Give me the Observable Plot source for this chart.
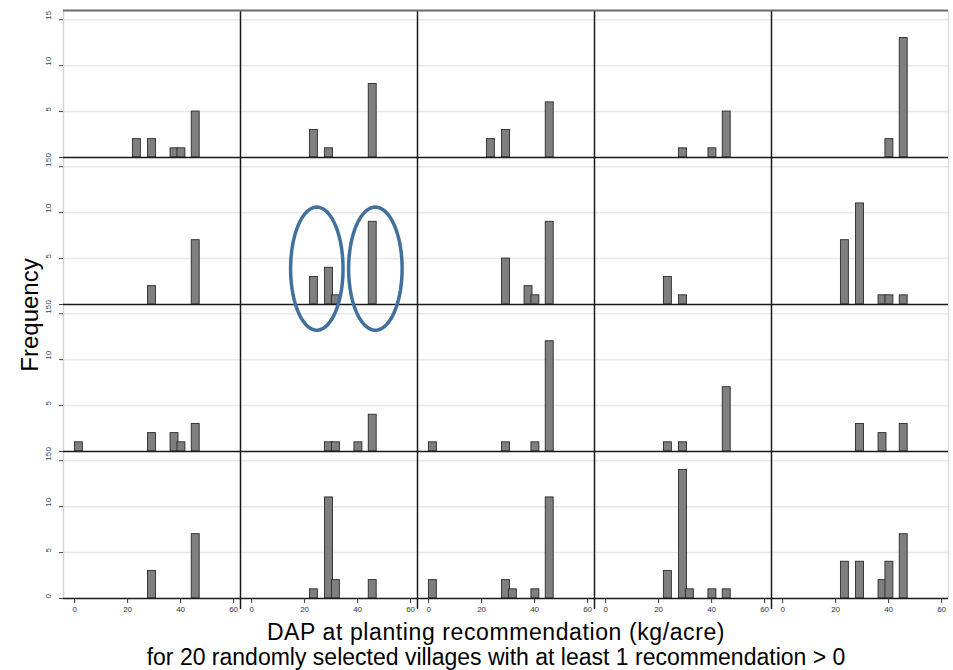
<!DOCTYPE html>
<html><head><meta charset="utf-8">
<script src="https://cdn.jsdelivr.net/npm/d3@7"></script>
<script src="https://cdn.jsdelivr.net/npm/@observablehq/plot@0.6"></script>
<style>
body{margin:0;background:#fff;font-family:"Liberation Sans",Arial,sans-serif;}
#wrap{position:relative;width:953px;height:670px;overflow:hidden;}
#chart{position:absolute;left:0;top:0;}
.ylab{position:absolute;left:30px;top:315px;transform:translate(-50%,-50%) rotate(-90deg);font-size:24px;white-space:nowrap;color:#000;}
.xlab{position:absolute;left:0;width:992px;text-align:center;font-size:23px;line-height:25px;color:#000;white-space:nowrap;}
</style></head>
<body><div id="wrap"><div id="chart"></div>
<div class="ylab">Frequency</div>
<div class="xlab" style="top:620px;letter-spacing:0.6px">DAP at planting recommendation (kg/acre)</div>
<div class="xlab" style="top:645px">for 20 randomly selected villages with at least 1 recommendation &gt; 0</div>
</div>
<script>
// bin centres (kg/acre) at which bars occur
const binCenters = [1.6, 23.5, 29.2, 31.8, 37.7, 40.3, 45.7];
// panel position of each village
const villageRow = [1,1,1,1,1, 2,2,2,2,2, 3,3,3,3,3, 4,4,4,4,4];
const villageCol = [1,2,3,4,5, 1,2,3,4,5, 1,2,3,4,5, 1,2,3,4,5];
// frequency per village for each bin centre
const counts = [
  [0,2,2,0,1,1,5],
  [0,3,1,0,0,0,8],
  [0,2,3,0,0,0,6],
  [0,0,1,0,0,1,5],
  [0,0,0,0,0,2,13],
  [0,0,2,0,0,0,7],
  [0,3,4,1,0,0,9],
  [0,0,5,0,2,1,9],
  [0,3,1,0,0,0,0],
  [0,7,11,0,1,1,1],
  [1,0,2,0,2,1,3],
  [0,0,1,1,0,1,4],
  [1,0,1,0,0,1,12],
  [0,1,1,0,0,0,7],
  [0,0,3,0,2,0,3],
  [0,0,3,0,0,0,7],
  [0,1,11,2,0,0,2],
  [2,0,2,1,0,1,11],
  [0,3,14,1,0,1,1],
  [0,4,4,0,2,4,7]
];
const xTicks = [0, 20, 40, 60];
const yTicks = [0, 5, 10, 15];
// highlight annotations (data units of the panel they sit in)
const ellipseRow = [2, 2];
const ellipseCol = [2, 2];
const ellipseCx = [24.6, 46.7];
const ellipseCy = [3.9, 3.9];
const ellipseRx = [9.9, 10.1];
const ellipseRy = [6.7, 6.7];

const xDomain = [-4.2, 62.6];
const yDomain = [0, 16];
const half = 1.5;

const bars = [];
counts.forEach((cs, i) => cs.forEach((n, j) => {
  if (n > 0) bars.push({row: villageRow[i], col: villageCol[i], x: binCenters[j], n});
}));
const cells = villageRow.map((r, i) => ({row: r, col: villageCol[i]}));
const yLabels = cells.filter(d => d.col === 1).flatMap(d => yTicks.map(t => ({row: d.row, col: 1, t})));

const ellipsePts = ellipseCx.flatMap((cx, k) => d3.range(0, 73).map(i => {
  const t = i / 72 * 2 * Math.PI;
  return {k, row: ellipseRow[k], col: ellipseCol[k],
          x: cx + ellipseRx[k] * Math.cos(t), y: ellipseCy[k] + ellipseRy[k] * Math.sin(t)};
}));

const chart = Plot.plot({
  width: 953, height: 620,
  marginLeft: 63, marginRight: 5, marginTop: 9, marginBottom: 21,
  x: {domain: xDomain, axis: null},
  y: {domain: yDomain, axis: null},
  fx: {domain: [1,2,3,4,5], axis: null, padding: 0},
  fy: {domain: [1,2,3,4], axis: null, padding: 0},
  style: {fontFamily: "Liberation Sans, Arial, sans-serif", background: "#fff", overflow: "visible"},
  marks: [
    Plot.ruleY(yTicks.filter(d => d > 0), {stroke: "#e8e8e8", strokeWidth: 1.5}),
    Plot.ruleX(cells.filter(d => d.col === 1), {fx: "col", fy: "row", x: () => xDomain[0], stroke: "#d4d4d4", strokeWidth: 1.5}),
    Plot.ruleX(cells.filter(d => d.col === 5), {fx: "col", fy: "row", x: () => xDomain[1], stroke: "#dcdcdc", strokeWidth: 1.5}),
    Plot.rect(bars, {fx: "col", fy: "row", x1: d => d.x - half, x2: d => d.x + half, y1: () => 0, y2: "n",
      fill: "#7f7f7f", stroke: "#2a2a2a", strokeWidth: 0.9}),
    Plot.ruleY(cells, {fx: "col", fy: "row", y: () => 0, stroke: "#1a1a1a", strokeWidth: 1.4}),
    Plot.ruleX(cells.filter(d => d.col < 5 && d.row < 4), {fx: "col", fy: "row", x: () => xDomain[1], stroke: "#1a1a1a", strokeWidth: 1.5}),
    Plot.ruleX(cells.filter(d => d.col < 5 && d.row === 4), {fx: "col", fy: "row", x: () => xDomain[1], y1: () => -1.2, y2: () => yDomain[1], stroke: "#1a1a1a", strokeWidth: 1.5}),
    Plot.ruleY(cells.filter(d => d.row === 1), {fx: "col", fy: "row", y: () => yDomain[1], stroke: "#6a6a6a", strokeWidth: 2}),
    Plot.axisX({ticks: xTicks, facetAnchor: "bottom", tickSize: 5, tickPadding: 3, fontSize: 8, color: "#333", label: null}),
    Plot.axisY({ticks: yTicks, facetAnchor: "left", tickSize: 4, tickFormat: () => "", color: "#444", label: null}),
    Plot.text(yLabels, {fx: "col", fy: "row", y: "t", text: d => String(d.t), frameAnchor: "left", dx: -15, rotate: -90, fontSize: 8, fill: "#2f3f66"}),
    Plot.line(ellipsePts, {fx: "col", fy: "row", x: "x", y: "y", z: "k", stroke: "#41709c", strokeWidth: 3.5, curve: "linear"})
  ]
});
document.getElementById("chart").appendChild(chart);
</script>
</body></html>
